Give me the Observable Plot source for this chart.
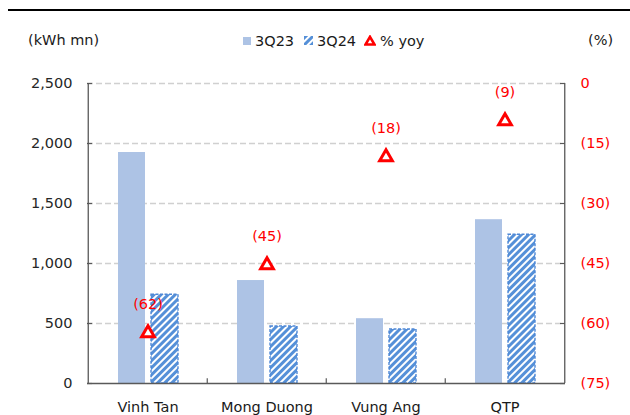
<!DOCTYPE html>
<html><head><meta charset="utf-8">
<script src="https://cdn.jsdelivr.net/npm/d3@7"></script>
<script src="https://cdn.jsdelivr.net/npm/@observablehq/plot@0.6"></script>
<style>
body{margin:0;background:#fff;}
#wrap{position:relative;width:630px;height:415px;font-family:"DejaVu Sans",sans-serif;font-size:14.5px;color:#1a1a1a;overflow:hidden;background:#fff}
#wrap svg.layer{position:absolute;left:0;top:0}
.abs{position:absolute;white-space:nowrap;line-height:1}
</style></head><body>
<svg width="0" height="0" style="position:absolute">
  <defs>
    <pattern id="hatch" patternUnits="userSpaceOnUse" width="5" height="5" patternTransform="rotate(45)">
      <rect x="0" y="0" width="5" height="5" fill="#ffffff"></rect>
      <rect x="0" y="0" width="3" height="5" fill="#5590d8"></rect>
    </pattern>
  </defs>
</svg>
<div id="wrap">
  <div class="abs" style="left:8px;top:9px;width:622px;height:2px;background:#000"></div>
  <div class="abs" style="left:28px;top:33px">(kWh mn)</div>
  <div class="abs" style="left:588px;top:33px">(%)</div>
  <svg class="abs" style="left:243px;top:37px" width="8" height="8"><rect width="8" height="8" fill="#adc3e5"></rect></svg>
  <div class="abs" style="left:255px;top:34px">3Q23</div>
  <svg class="abs" style="left:304px;top:36px" width="9" height="9"><rect width="9" height="9" fill="url(#hatch)"></rect></svg>
  <div class="abs" style="left:317px;top:34px">3Q24</div>
  <svg class="abs" style="left:364px;top:35px" width="12" height="11"><polygon points="6,1.8 10.5,9.5 1.5,9.5" fill="#fff" stroke="#ff0000" stroke-width="2.6" stroke-linejoin="miter"></polygon></svg>
  <div class="abs" style="left:380px;top:34px">% yoy</div>
</div>
<script>
const categories = ["Vinh Tan", "Mong Duong", "Vung Ang", "QTP"];
const series = ["3Q23", "3Q24"];
const values3Q23 = [1925, 858, 540, 1365];
const values3Q24 = [740, 475, 450, 1240];
const yoy = [-62, -45, -18, -9];
const yoyLabels = ["(62)", "(45)", "(18)", "(9)"];
const leftTicks = [0, 500, 1000, 1500, 2000, 2500];
const rightTicks = [0, -15, -30, -45, -60, -75];

const W = 630, H = 415, ML = 87, MR = 65, MT = 83, MB = 32;
const band = (W - ML - MR) / categories.length;
const style = {fontFamily: "DejaVu Sans, sans-serif", fontSize: "14.5px", background: "transparent", overflow: "visible"};
const axisColor = "#595959";

const bars = categories.flatMap((c, i) => [
  {cat: c, s: series[0], v: values3Q23[i]},
  {cat: c, s: series[1], v: values3Q24[i]}
]);
const yoyData = categories.map((c, i) => ({cat: c, v: yoy[i], label: yoyLabels[i]}));

const base = {width: W, height: H, marginLeft: ML, marginRight: MR, marginTop: MT, marginBottom: MB, style};

// Layer 1: grid, left axis, category axis
const p1 = Plot.plot({
  ...base,
  x: {type: "band", domain: categories, padding: 0, axis: null},
  y: {domain: [0, 2500], axis: null},
  marks: [
    Plot.ruleY(leftTicks.filter(d => d > 0), {stroke: "#d0d0d0", strokeWidth: 1.3, strokeDasharray: "6,3"}),
    Plot.ruleY(leftTicks, {stroke: axisColor, strokeWidth: 1.2, insetRight: W - ML - MR - 5}),
    Plot.ruleX([categories[0]], {dx: -band / 2, stroke: axisColor, strokeWidth: 1.3}),
    Plot.ruleX(categories.slice(1), {dx: -band / 2, y1: 0, y2: 40, stroke: axisColor, strokeWidth: 1.2}),
    Plot.axisY({anchor: "left", label: null, ticks: leftTicks, tickSize: 0, tickPadding: 15, tickFormat: d3.format(","), fill: "#262626"}),
    Plot.axisX({anchor: "bottom", label: null, tickSize: 0, tickPadding: 18, fill: "#1a1a1a"})
  ]
});

// Layer 2: bars
const p2 = Plot.plot({
  ...base,
  fx: {domain: categories, padding: 0, axis: null, label: null},
  x: {domain: series, paddingInner: 0.19, paddingOuter: 0.88, axis: null, label: null},
  y: {domain: [0, 2500], axis: null, label: null},
  marks: [
    Plot.barY(bars.filter(d => d.s === "3Q23"), {fx: "cat", x: "s", y: "v", fill: "#adc3e5"}),
    Plot.barY(bars.filter(d => d.s === "3Q24"), {fx: "cat", x: "s", y: "v", fill: "url(#hatch)", stroke: "#4f88d6", strokeWidth: 1.4, strokeDasharray: "3,1.5"})
  ]
});

// Layer 3: % yoy, right axis, baseline
const p3 = Plot.plot({
  ...base,
  x: {type: "band", domain: categories, padding: 0, axis: null},
  y: {domain: [-75, 0], axis: null},
  marks: [
    Plot.ruleY([-75], {stroke: axisColor, strokeWidth: 1.3}),
    Plot.ruleX([categories[categories.length - 1]], {dx: band / 2, stroke: axisColor, strokeWidth: 1.3}),
    Plot.ruleY(rightTicks, {stroke: axisColor, strokeWidth: 1.2, insetLeft: W - ML - MR - 5}),
    Plot.axisY({anchor: "right", label: null, ticks: rightTicks, tickSize: 0, tickPadding: 15, tickFormat: d => d === 0 ? "0" : `(${-d})`, fill: "#ff0000"}),
    Plot.dot(yoyData, {x: "cat", y: "v", dy: 1.5, symbol: "triangle", r: 4.7, fill: "#fff", stroke: "#ff0000", strokeWidth: 3}),
    Plot.text(yoyData, {x: "cat", y: "v", text: "label", dy: -27, fill: "#ff0000"})
  ]
});

const wrap = document.getElementById("wrap");
const first = wrap.firstChild;
for (const p of [p1, p2, p3]) {
  p.classList.add("layer");
  wrap.insertBefore(p, first);
}
</script>
</body></html>
